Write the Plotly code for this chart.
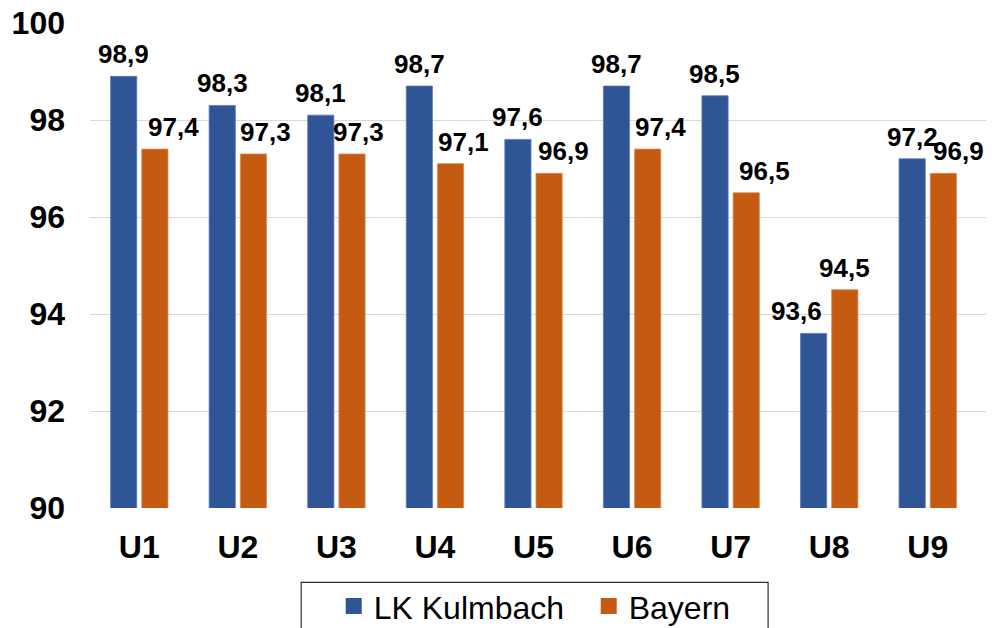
import plotly.graph_objects as go

categories = ["U1", "U2", "U3", "U4", "U5", "U6", "U7", "U8", "U9"]
kulmbach = [98.9, 98.3, 98.1, 98.7, 97.6, 98.7, 98.5, 93.6, 97.2]
bayern = [97.4, 97.3, 97.3, 97.1, 96.9, 97.4, 96.5, 94.5, 96.9]
y_ticks = [90, 92, 94, 96, 98, 100]

BLUE = "#2F5597"
ORANGE = "#C55A11"
FONT = "Arial, Liberation Sans, sans-serif"

# label horizontal nudges (px) relative to each bar centre
blue_nudge = [0, 0, 0, 0, 0, 0, 0, -17, 0]
orange_nudge = [18, 12, 6, 13, 14, 13, 18, 0, 15]
BAR_OFFSET = 15.75

fig = go.Figure()
fig.add_trace(go.Bar(x=categories, y=kulmbach, name="LK Kulmbach",
                     marker=dict(color=BLUE, line=dict(color="#5a7bbd", width=0.8)),
                     showlegend=False))
fig.add_trace(go.Bar(x=categories, y=bayern, name="Bayern",
                     marker=dict(color=ORANGE, line=dict(color="#d98a55", width=0.8)),
                     showlegend=False))
# legend entries
fig.add_trace(go.Scatter(x=[None], y=[None], mode="markers", name="LK Kulmbach",
                         marker=dict(symbol="square", size=16, color=BLUE)))
fig.add_trace(go.Scatter(x=[None], y=[None], mode="markers", name="Bayern",
                         marker=dict(symbol="square", size=16, color=ORANGE)))

def fmt(v):
    return f"{v:.1f}".replace(".", ",")

annotations = []
for i, c in enumerate(categories):
    annotations.append(dict(x=c, y=kulmbach[i], text=fmt(kulmbach[i]), showarrow=False,
                            xref="x", yref="y", yanchor="bottom", xanchor="center",
                            xshift=-BAR_OFFSET + blue_nudge[i], yshift=5,
                            font=dict(family=FONT, size=26, color="black", weight="bold")))
    annotations.append(dict(x=c, y=bayern[i], text=fmt(bayern[i]), showarrow=False,
                            xref="x", yref="y", yanchor="bottom", xanchor="center",
                            xshift=BAR_OFFSET + orange_nudge[i], yshift=5,
                            font=dict(family=FONT, size=26, color="black", weight="bold")))

fig.update_layout(
    width=995, height=628,
    margin=dict(l=89.7, r=9, t=22.7, b=120.3, autoexpand=False),
    paper_bgcolor="white", plot_bgcolor="white",
    barmode="group", bargap=0.367, bargroupgap=0.16,
    font=dict(family=FONT, color="black"),
    annotations=annotations,
    showlegend=True,
    legend=dict(orientation="h", x=0.272, xanchor="left", y=-0.2027, yanchor="middle",
                font=dict(family=FONT, size=32, color="black"),
                entrywidth=210, borderwidth=0, bgcolor="rgba(0,0,0,0)",
                itemclick=False),
    shapes=[dict(type="rect", xref="paper", yref="paper",
                 x0=0.2357, x1=0.7568, y0=-0.1532, y1=-0.28,
                 line=dict(color="#303030", width=1.2), fillcolor="rgba(0,0,0,0)", layer="below")],
)
fig.update_yaxes(range=[90, 100], tickvals=y_ticks, ticktext=[str(t) for t in y_ticks],
                 showgrid=True, gridcolor="#d9d9d9", gridwidth=1, zeroline=False,
                 showline=False, ticks="", ticklabelstandoff=24,
                 tickfont=dict(family=FONT, size=32, color="black", weight="bold"))
fig.update_xaxes(showgrid=False, showline=False, ticks="", ticklabelstandoff=17,
                 tickfont=dict(family=FONT, size=32, color="black", weight="bold"))

fig.write_html("out.html")
